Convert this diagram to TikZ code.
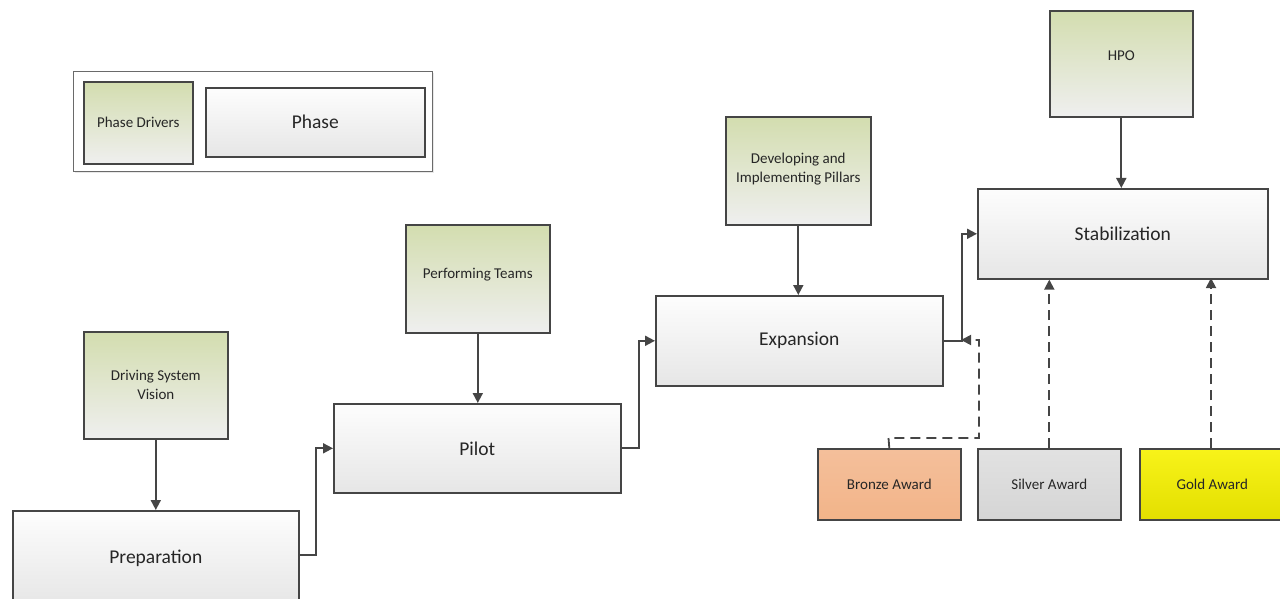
\documentclass[tikz,border=0pt]{standalone}
\usepackage{fontspec}
\setmainfont{Carlito}
\usetikzlibrary{arrows.meta,shadows}
\definecolor{edge}{HTML}{454545}
\definecolor{drvtop}{HTML}{D3DDAF}
\definecolor{drvbot}{HTML}{EFEFEF}
\definecolor{phtop}{HTML}{FDFDFD}
\definecolor{phbot}{HTML}{E6E6E6}
\definecolor{bronze}{HTML}{F2B489}
\definecolor{silver}{HTML}{D5D5D5}
\definecolor{gold}{HTML}{F7F200}
\tikzset{
  box/.style={draw=edge, line width=1.6pt, anchor=north west, inner sep=2pt, align=center,
    text=black!85, drop shadow={opacity=0.18, shadow xshift=1.5pt, shadow yshift=-1.5pt}},
  phasebox/.style={box, top color=phtop, bottom color=phbot, font=\fontsize{19.5}{22}\selectfont},
  driver/.style={box, top color=drvtop, bottom color=drvbot, font=\fontsize{15}{19}\selectfont},
  award/.style={box, font=\fontsize{15}{19}\selectfont},
  conn/.style={draw=edge, line width=1.8pt, -{Triangle[length=10pt,width=10pt]}},
  dconn/.style={conn, dash pattern=on 10pt off 6pt},
}
\begin{document}
\begin{tikzpicture}[x=1pt, y=-1pt]
\useasboundingbox (0,0) rectangle (1280,599);
% legend
\node[box, draw=edge!80, line width=1.4pt, fill=white, minimum width=359pt, minimum height=100pt] (legend) at (73,71) {};
\node[driver, minimum width=109pt, minimum height=82pt] (legdrv) at (83,81) {Phase Drivers};
\node[phasebox, minimum width=219pt, minimum height=69pt] (legph) at (205,87) {Phase};
% phases
\node[phasebox, minimum width=286pt, minimum height=95pt] (prep) at (12,510) {\raisebox{-3pt}{Preparation}};
\node[phasebox, minimum width=287pt, minimum height=89pt] (pilot) at (333,403) {Pilot};
\node[phasebox, minimum width=287pt, minimum height=90pt] (exp) at (655,295) {Expansion};
\node[phasebox, minimum width=290pt, minimum height=90pt] (stab) at (977,188) {Stabilization};
% drivers
\node[driver, minimum width=144pt, minimum height=107pt] (dsv) at (83,331) {Driving System\\Vision};
\node[driver, minimum width=144pt, minimum height=108pt] (pt) at (405,224) {\raisebox{10pt}{Performing Teams}};
\node[driver, minimum width=145pt, minimum height=108pt] (dip) at (725,116) {\raisebox{16pt}{\parbox{140pt}{\centering Developing and\\Implementing Pillars}}};
\node[driver, minimum width=143pt, minimum height=106pt] (hpo) at (1049,10) {\raisebox{16pt}{HPO}};
% awards
\node[award, top color=bronze!85!white, bottom color=bronze, minimum width=143pt, minimum height=71pt] (bronze) at (817,448) {Bronze Award};
\node[award, top color=silver!70!white, bottom color=silver, minimum width=143pt, minimum height=71pt] (silver) at (977,448) {Silver Award};
\node[award, top color=gold!90!white, bottom color=gold!92!black, minimum width=145pt, minimum height=71pt] (goldaw) at (1139,448) {Gold Award};
% driver arrows
\draw[conn] (dsv.south) -- (dsv.south |- prep.north);
\draw[conn] (pt.south) -- (pt.south |- pilot.north);
\draw[conn] (dip.south) -- (dip.south |- exp.north);
\draw[conn] (hpo.south) -- (hpo.south |- stab.north);
% phase to phase
\draw[conn] (prep.east |- 0,555) -- (316,555) |- (pilot.west);
\draw[conn] (pilot.east) -- ++(17,0) |- (exp.west);
\draw[conn] (exp.east) -- ++(18,0) |- (stab.west);
% award links
\coordinate (bronzetip) at (961,340);
\draw[dconn] (bronze.north) -- (888.5,438) -- (979,438) -- (979,340) -- (bronzetip);
\draw[dconn] (silver.north) -- (silver.north |- stab.south);
\draw[dconn] (1211,448) -- (1211,278);
\end{tikzpicture}
\end{document}
